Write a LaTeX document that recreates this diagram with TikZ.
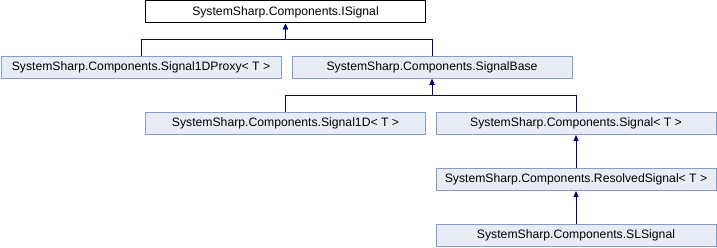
\documentclass[tikz,border=0pt]{standalone}
\usepackage{fontspec}
\setmainfont{Liberation Sans}
\usetikzlibrary{arrows.meta}
\definecolor{boxfill}{RGB}{232,236,244}
\definecolor{boxline}{RGB}{132,154,202}
\definecolor{edgeblue}{RGB}{0,0,128}

\begin{document}
\begin{tikzpicture}[x=1pt,y=-1pt,
  cls/.style={draw=boxline,fill=boxfill,line width=1pt,minimum width=280pt,minimum height=22pt,inner sep=0pt,font=\fontsize{12.2}{14}\selectfont},
  inh/.style={draw=edgeblue,line width=1pt,-{Triangle[length=6pt,width=5pt]}}]

\useasboundingbox (0,0) rectangle (717,248);

\node[cls,draw=black,fill=white] (isignal) at (285.5,12) {SystemSharp.Components.ISignal};
\node[cls] (proxy) at (141,67.5) {SystemSharp.Components.Signal1DProxy< T >};
\node[cls] (base) at (432,67.5) {SystemSharp.Components.SignalBase};
\node[cls] (sig1d) at (285.5,123.5) {SystemSharp.Components.Signal1D< T >};
\node[cls] (signal) at (576,123.5) {SystemSharp.Components.Signal< T >};
\node[cls] (resolved) at (576,179.5) {SystemSharp.Components.ResolvedSignal< T >};
\node[cls] (slsignal) at (576,235.5) {SystemSharp.Components.SLSignal};

\coordinate (bus1) at (0,40);
\coordinate (bus2) at (0,96);

\draw[inh] (proxy.north) |- (isignal.south |- bus1) -- (isignal.south);
\draw[inh] (base.north) |- (isignal.south |- bus1) -- (isignal.south);
\draw[inh] (sig1d.north) |- (base.south |- bus2) -- (base.south);
\draw[inh] (signal.north) |- (base.south |- bus2) -- (base.south);
\draw[inh] (resolved.north) -- (signal.south);
\draw[inh] (slsignal.north) -- (resolved.south);
\end{tikzpicture}
\end{document}
